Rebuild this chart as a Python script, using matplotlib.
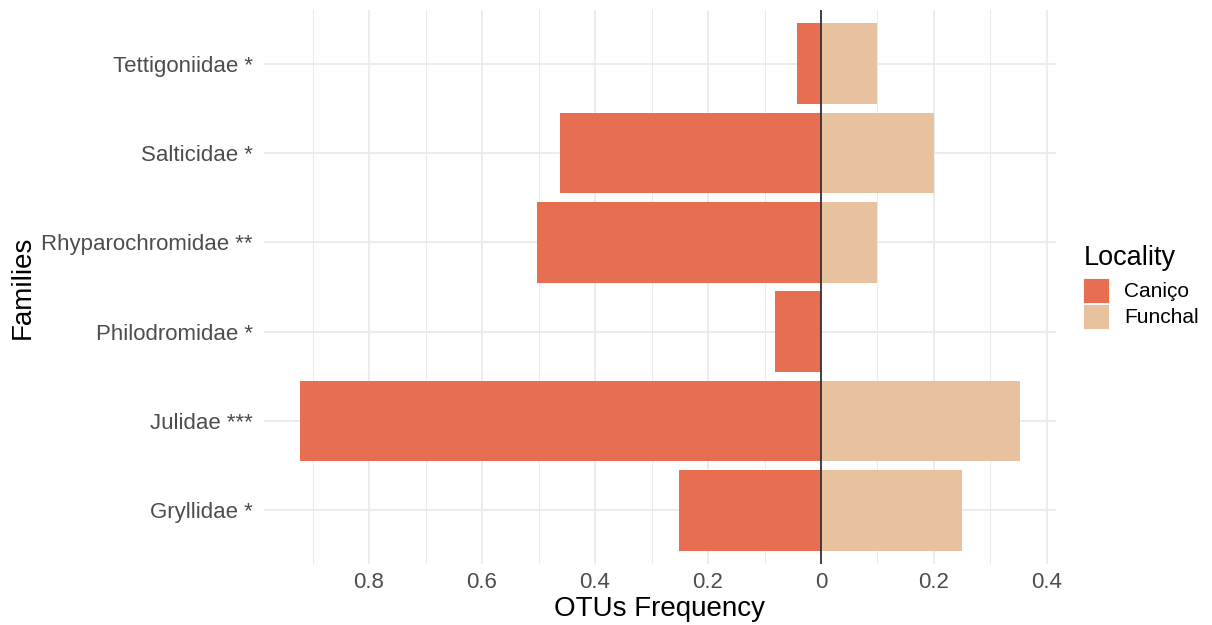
import matplotlib
matplotlib.use("Agg")
import matplotlib.pyplot as plt
from matplotlib.ticker import FuncFormatter, MultipleLocator

plt.rcParams["font.family"] = ["Liberation Sans", "DejaVu Sans"]

# Daten (von unten nach oben)
families = ["Gryllidae *", "Julidae ***", "Philodromidae *",
            "Rhyparochromidae **", "Salticidae *", "Tettigoniidae *"]
canico = [-0.251, -0.922, -0.081, -0.503, -0.462, -0.043]
funchal = [0.25, 0.352, 0.0, 0.1, 0.2, 0.1]
localities = ["Caniço", "Funchal"]
colors = ["#E86E52", "#E8C19E"]

fig = plt.figure(figsize=(12.12, 6.25), dpi=100)
ax = fig.add_axes([0.2178, 0.0976, 0.6535, 0.8864])

ypos = list(range(len(families)))
ax.barh(ypos, canico, height=0.9, color=colors[0], label=localities[0], zorder=2)
ax.barh(ypos, funchal, height=0.9, color=colors[1], label=localities[1], zorder=2)
ax.axvline(0, color="#333333", linewidth=1.3, zorder=3)

ax.set_xlim(-0.986, 0.416)
ax.set_ylim(-0.6, len(families) - 0.4)
ax.xaxis.set_major_locator(MultipleLocator(0.2))
ax.xaxis.set_minor_locator(MultipleLocator(0.1))
ax.xaxis.set_major_formatter(FuncFormatter(lambda v, _: "0" if abs(v) < 1e-9 else f"{abs(v):g}"))
ax.set_yticks(ypos)
ax.set_yticklabels(families)

ax.grid(which="major", color="#EBEBEB", linewidth=1.3, zorder=0)
ax.grid(which="minor", axis="x", color="#EBEBEB", linewidth=0.7, zorder=0)
ax.set_axisbelow(True)
for s in ax.spines.values():
    s.set_visible(False)
ax.tick_params(which="both", length=0, labelsize=16, labelcolor="#4D4D4D")
ax.tick_params(axis="x", pad=6)
ax.tick_params(axis="y", pad=8)

ax.set_xlabel("OTUs Frequency", fontsize=20, labelpad=2)
ax.set_ylabel("Families", fontsize=20, labelpad=4)

leg = ax.legend(loc="center left", bbox_to_anchor=(1.024, 0.5), frameon=False,
                title="Locality", fontsize=15, title_fontsize=19.5,
                handlelength=1.25, handleheight=1.45, handletextpad=0.7,
                labelspacing=0.05, alignment="left", borderaxespad=0)
leg._legend_box.sep = 5
for h in leg.legend_handles:
    h.set_edgecolor("white")
    h.set_linewidth(0.6)

fig.savefig("out.png", dpi=100)
